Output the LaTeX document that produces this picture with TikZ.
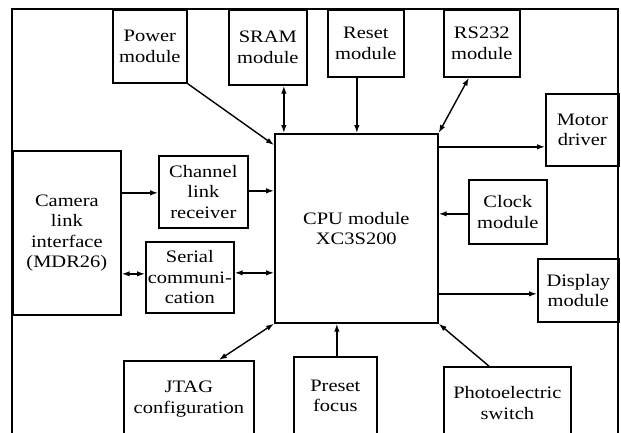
\documentclass[tikz,border=0pt]{standalone}
\usepackage{fontspec}
\setmainfont{Liberation Serif}[FakeStretch=1.17]
\usetikzlibrary{arrows.meta,calc}
\begin{document}
\begin{tikzpicture}[x=1pt,y=-1pt,
  box/.style={draw, line width=1.7pt, align=center, inner sep=0pt, anchor=north west,
    font=\fontsize{17.5}{20.5}\selectfont},
  conn/.style={line width=1.4pt, -{Latex[length=8pt,width=5.5pt]}},
  bi/.style={line width=1.4pt, {Latex[length=8pt,width=5.5pt]}-{Latex[length=8pt,width=5.5pt]}}]
\useasboundingbox (0,0) rectangle (621,432);
\clip (0,0) rectangle (621,432);
% outer frame (open at the bottom)
\draw[line width=1.7pt] (12,440) -- (12,9) -- (618,9) -- (618,440);
% top row
\node[box, minimum width=74pt, minimum height=73pt] (power) at (112,9) {Power\\module};
\node[box, minimum width=78pt, minimum height=75pt] (sram) at (228,9) {SRAM\\module};
\node[box, minimum width=76pt, minimum height=67pt] (reset) at (327,9) {Reset\\module};
\node[box, minimum width=76pt, minimum height=67pt] (rs) at (443,9) {RS232\\module};
% CPU
\node[box, minimum width=163pt, minimum height=189pt] (cpu) at (274,133) {CPU module\\XC3S200};
% left
\node[box, minimum width=108pt, minimum height=164pt] (cam) at (12,150) {Camera\\link\\interface\\(MDR26)};
\node[box, minimum width=89pt, minimum height=72pt] (chan) at (158,155) {Channel\\link\\receiver};
\node[box, minimum width=88pt, minimum height=71pt] (serial) at (145,241) {Serial\\communi-\\cation};
% right
\node[box, minimum width=73pt, minimum height=72pt] (motor) at (545,93) {Motor\\driver};
\node[box, minimum width=78pt, minimum height=64pt] (clock) at (468,179) {Clock\\module};
\node[box, minimum width=81pt, minimum height=63pt] (disp) at (537,258) {Display\\module};
% bottom (cut off by the picture edge)
\node[box, minimum width=130pt, minimum height=76pt] (jtag) at (123,360) {JTAG\\configuration};
\node[box, minimum width=83pt, minimum height=78pt] (preset) at (293,356) {Preset\\focus};
\node[box, minimum width=127pt, minimum height=72pt] (photo) at (443,366) {Photoelectric\\switch};
% connectors
\coordinate (pw) at ($(cpu.north west)+(0,12)$);
\draw[conn] (power.south east) -- (pw);
\coordinate (sr) at ($(sram.south)+(16,0)$);
\draw[bi] (sr) -- (sr |- cpu.north);
\coordinate (rt) at ($(reset.south)+(-9,0)$);
\draw[conn] (rt) -- (rt |- cpu.north);
\coordinate (rsa) at ($(rs.south)+(-13,0)$);
\draw[bi] (rsa) -- (cpu.north east);
\coordinate (mo) at ($(motor.west)+(0,17)$);
\draw[conn] (cpu.east |- mo) -- (mo);
\coordinate (ck) at ($(clock.west)+(0,2)$);
\draw[conn] (ck) -- (cpu.east |- ck);
\coordinate (dp) at ($(disp.west)+(0,3.5)$);
\draw[conn] (cpu.east |- dp) -- (dp);
\coordinate (ch) at ($(chan.west)+(0,1)$);
\draw[conn] (cam.east |- ch) -- (ch);
\coordinate (ch2) at ($(chan.east)+(0,-1)$);
\draw[conn] (ch2) -- (cpu.west |- ch2);
\coordinate (se) at ($(serial.west)+(0,-3.5)$);
\draw[bi] (cam.east |- se) -- (se);
\coordinate (se2) at ($(serial.east)+(0,-4.5)$);
\draw[bi] (se2) -- (cpu.west |- se2);
\coordinate (jt) at ($(jtag.north)+(30,0)$);
\draw[bi] (jt) -- (cpu.south west);
\coordinate (pf) at ($(preset.north)+(1.5,0)$);
\draw[conn] (pf) -- (pf |- cpu.south);
\coordinate (ph) at ($(photo.north)+(-18.5,0)$);
\draw[conn] (ph) -- (cpu.south east);
\end{tikzpicture}
\end{document}
